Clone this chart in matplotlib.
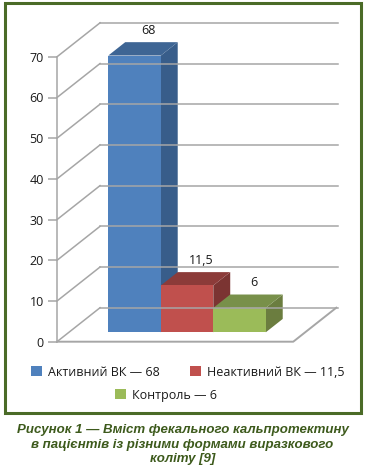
import matplotlib
matplotlib.use("Agg")
import matplotlib.pyplot as plt
from matplotlib.patches import Polygon, Rectangle, Patch

# дані
groups = ["Активний ВК", "Неактивний ВК", "Контроль"]
values = [68, 11.5, 6]
value_labels = ["68", "11,5", "6"]
legend_labels = ["Активний ВК — 68", "Неактивний ВК — 11,5", "Контроль — 6"]
yticks = [0, 10, 20, 30, 40, 50, 60, 70]
caption = ["Рисунок 1 — Вміст фекального кальпротектину",
           "в пацієнтів із різними формами виразкового",
           "коліту [9]"]

front = ["#4f81bd", "#c0504d", "#9bbb59"]
side = ["#385d8a", "#7b3432", "#6b7d3f"]
top = ["#3e6594", "#8c3b39", "#78904a"]

W, H = 365, 471
fig = plt.figure(figsize=(W / 100, H / 100), dpi=100)

# масштаб: 1 категорія = 52.5 px, 1 одиниця значення = 4.07 px
PXC, PXV = 52.5, 4.07
X0, Y0 = 57, 341.7
ax = fig.add_axes([0, 0, 1, 1])
ax.set_xlim(-X0 / PXC, (W - X0) / PXC)
ax.set_ylim(-(H - Y0) / PXV, Y0 / PXV)

DX, DY = 0.82, 8.35          # повна глибина
d0, d1 = 0.277, 0.67         # передня/задня грань стовпчиків
floor_w = 4.5
back_r = 5.35
grid_c = "#a6a6a6"
txt_c = "#1a1a1a"
fnt = "Open Sans"

for v in yticks:
    ax.plot([0, DX], [v, v + DY], color=grid_c, lw=1.1, clip_on=False)
    ax.plot([DX, back_r], [v + DY, v + DY], color=grid_c, lw=1.1, clip_on=False)
ax.plot([0, floor_w, floor_w + DX], [0, 0, DY], color=grid_c, lw=1.4, clip_on=False)

for i, v in enumerate(values):
    x = 0.75 + i + d0 * DX
    y = d0 * DY
    bx, by = (d1 - d0) * DX, (d1 - d0) * DY
    ax.add_patch(Polygon([[x + 1, y], [x + 1 + bx, y + by], [x + 1 + bx, y + v + by], [x + 1, y + v]],
                         closed=True, fc=side[i], ec="none"))
    ax.add_patch(Polygon([[x, y + v], [x + 1, y + v], [x + 1 + bx, y + v + by], [x + bx, y + v + by]],
                         closed=True, fc=top[i], ec="none"))
    ax.add_patch(Rectangle((x, y), 1, v, fc=front[i], ec="none"))
    ax.annotate(value_labels[i], (x + 0.5 + 0.85 * bx, y + v + by), xytext=(0, 4),
                textcoords="offset points", ha="center", va="bottom",
                fontsize=9, color=txt_c, family=fnt)

ax.spines[["top", "right", "bottom"]].set_visible(False)
ax.spines["left"].set_position(("data", 0))
ax.spines["left"].set_bounds(0, 70)
ax.spines["left"].set_color(grid_c)
ax.spines["left"].set_linewidth(1.1)
ax.set_yticks(yticks)
ax.set_yticklabels([str(t) for t in yticks], family=fnt, fontsize=9, color=txt_c)
ax.tick_params(axis="y", length=6.5, width=1.1, color=grid_c, pad=3)
ax.set_xticks([])
ax.patch.set_visible(False)

handles = [Patch(fc=c, ec="none") for c in front]
leg_kw = dict(frameon=False, prop={"family": fnt, "size": 9}, handlelength=0.9,
              handleheight=0.9, handletextpad=0.5, borderpad=0, borderaxespad=0,
              labelcolor=txt_c)
fig.legend(handles[:2], legend_labels[:2], ncol=2, columnspacing=2.4,
           loc="center left", bbox_to_anchor=(30.5 / W, 1 - 372 / H), **leg_kw)
fig.legend(handles[2:], legend_labels[2:], loc="center left",
           bbox_to_anchor=(115 / W, 1 - 395 / H), **leg_kw)

fig.add_artist(Rectangle((5 / W, 1 - 413 / H), 356 / W, 410 / H, transform=fig.transFigure,
                         fill=False, ec="#4b6b27", lw=2.2))

for k, line in enumerate(caption):
    fig.text(0.5, 1 - (430 + k * 14.5) / H, line, ha="center", va="center",
             family="Liberation Sans", weight="bold", style="italic", fontsize=9.5, color="#3d5a1c")

fig.savefig("out.png", dpi=100)
